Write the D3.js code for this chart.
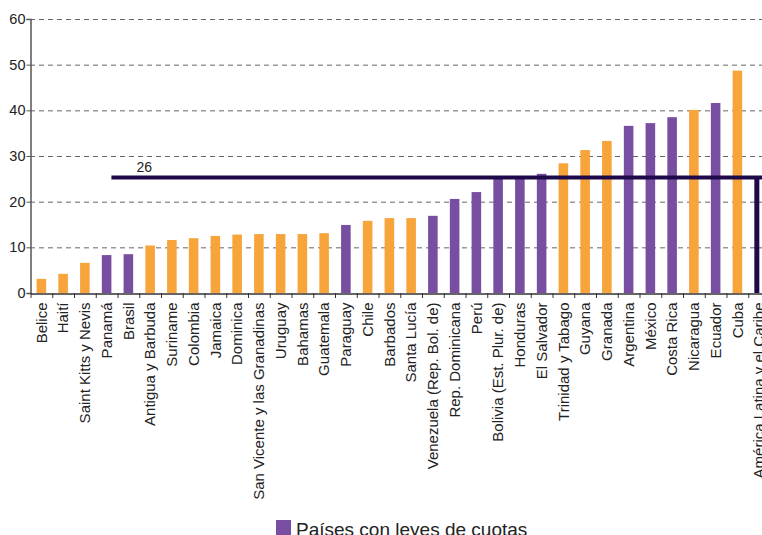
<!DOCTYPE html>
<html>
<head>
<meta charset="utf-8">
<script src="https://cdn.jsdelivr.net/npm/d3@7"></script>
<style>
  body { margin: 0; background: #fff; }
  svg { font-family: "Liberation Sans", Arial, sans-serif; display: block; }
</style>
</head>
<body>
<div id="chart"></div>
<script>
// data
const countries = ['Belice', 'Haití', 'Saint Kitts y Nevis', 'Panamá', 'Brasil', 'Antigua y Barbuda',
  'Suriname', 'Colombia', 'Jamaica', 'Dominica', 'San Vicente y las Granadinas', 'Uruguay', 'Bahamas',
  'Guatemala', 'Paraguay', 'Chile', 'Barbados', 'Santa Lucía', 'Venezuela (Rep. Bol. de)',
  'Rep. Dominicana', 'Perú', 'Bolivia (Est. Plur. de)', 'Honduras', 'El Salvador', 'Trinidad y Tabago',
  'Guyana', 'Granada', 'Argentina', 'México', 'Costa Rica', 'Nicaragua', 'Ecuador', 'Cuba',
  'América Latina y el Caribe'];
const values = [3.1, 4.2, 6.6, 8.3, 8.5, 10.4, 11.6, 12.0, 12.5, 12.8, 12.9, 12.9, 12.9, 13.1, 14.9,
  15.8, 16.4, 16.4, 16.9, 20.6, 22.1, 25.2, 25.5, 26.1, 28.4, 31.3, 33.3, 36.6, 37.2, 38.5, 40.1, 41.6,
  48.7, 25.3];
// 1 = país con leyes de cuotas, 0 = sin leyes, 2 = promedio regional
const groups = [0, 0, 0, 1, 1, 0, 0, 0, 0, 0, 0, 0, 0, 0, 1, 0, 0, 0, 1, 1, 1, 1, 1, 1, 0, 0, 0, 1, 1, 1, 0, 1, 0, 2];
const avgValue = 25.3;
const avgLabel = '26';
const avgStart = 'Panamá';
const yTicks = [0, 10, 20, 30, 40, 50, 60];
const legendLabels = ['Países con leyes de cuotas'];

const width = 762;
const height = 535;
const colors = ['#f7a43b', '#774ea0', '#1e0a4a'];

const data = countries.map((c, i) => ({ name: c, value: values[i], group: groups[i] }));

const svg = d3.select('#chart')
  .append('svg')
  .attr('width', width)
  .attr('height', height);

const x = d3.scaleBand()
  .domain(countries)
  .range([30.5, 770])
  .paddingInner(0.56)
  .paddingOuter(0.28);

const y = d3.scaleLinear()
  .domain([0, 60])
  .range([293, 19]);

// gridlines
svg.append('g')
  .selectAll('line')
  .data(yTicks.filter(d => d > 0))
  .enter()
  .append('line')
  .attr('x1', 30)
  .attr('x2', width)
  .attr('y1', d => y(d) + 0.5)
  .attr('y2', d => y(d) + 0.5)
  .attr('stroke', '#666')
  .attr('stroke-width', 1)
  .attr('stroke-dasharray', '5,4');

// bars
svg.append('g')
  .selectAll('rect')
  .data(data)
  .enter()
  .append('rect')
  .attr('x', d => x(d.name))
  .attr('width', d => d.group === 2 ? 5 : x.bandwidth())
  .attr('y', d => y(d.value))
  .attr('height', d => y(0) - y(d.value))
  .attr('fill', d => colors[d.group]);

// average line
svg.append('line')
  .attr('x1', x(avgStart) + x.bandwidth())
  .attr('x2', width)
  .attr('y1', y(avgValue))
  .attr('y2', y(avgValue))
  .attr('stroke', colors[2])
  .attr('stroke-width', 4);

svg.append('text')
  .attr('x', x(avgStart) + x.bandwidth() + 25)
  .attr('y', y(avgValue) - 5.5)
  .attr('font-size', 14)
  .attr('fill', '#222')
  .text(avgLabel);

// y axis
const yAxis = svg.append('g')
  .attr('transform', 'translate(30.5,0)')
  .call(d3.axisLeft(y).tickValues(yTicks).tickSize(4).tickPadding(1));
yAxis.select('.domain').attr('stroke', '#555').attr('stroke-width', 1.5);
yAxis.selectAll('.tick line').attr('stroke', '#555');
yAxis.selectAll('text').attr('font-size', 14.5).attr('fill', '#222')
  .attr('font-family', '"Liberation Sans", Arial, sans-serif');

// x axis
const xAxis = svg.append('g')
  .attr('transform', `translate(0,${y(0) + 0.5})`)
  .call(d3.axisBottom(x).tickSize(0).tickPadding(0));
xAxis.select('.domain').attr('stroke', '#333').attr('stroke-width', 1.5);
xAxis.selectAll('text')
  .attr('font-size', 15)
  .attr('fill', '#222')
  .attr('font-family', '"Liberation Sans", Arial, sans-serif')
  .attr('transform', 'rotate(-90)')
  .attr('text-anchor', 'end')
  .attr('x', -9)
  .attr('y', 0)
  .attr('dy', '0.35em');

// separator ticks between categories
const step = x.step();
svg.append('g')
  .selectAll('line')
  .data(countries)
  .enter()
  .append('line')
  .attr('x1', d => x(d) - step * 0.28 + 0.5)
  .attr('x2', d => x(d) - step * 0.28 + 0.5)
  .attr('y1', y(0))
  .attr('y2', y(0) + 5)
  .attr('stroke', '#333');

// legend
const legend = svg.append('g')
  .attr('transform', 'translate(276,519)');
legend.selectAll('rect')
  .data(legendLabels)
  .enter()
  .append('rect')
  .attr('x', 0)
  .attr('y', 1)
  .attr('width', 15)
  .attr('height', 15)
  .attr('fill', colors[1]);
legend.selectAll('text')
  .data(legendLabels)
  .enter()
  .append('text')
  .attr('x', 20)
  .attr('y', 17)
  .attr('font-size', 19)
  .attr('fill', '#222')
  .text(d => d);
</script>
</body>
</html>
